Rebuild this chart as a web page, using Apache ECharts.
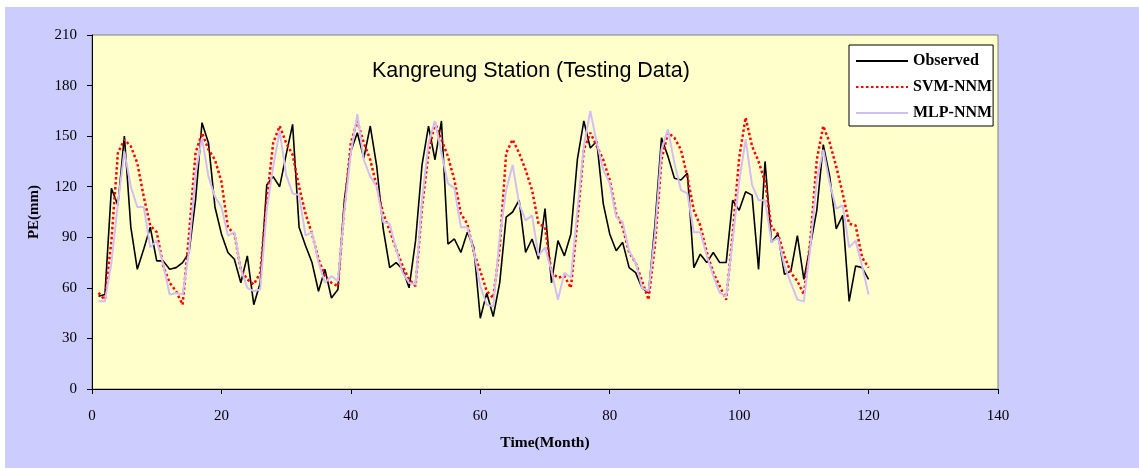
<!DOCTYPE html>
<html>
<head>
<meta charset="utf-8">
<script src="https://cdn.jsdelivr.net/npm/echarts@6/dist/echarts.min.js"></script>
<style>
html,body{margin:0;padding:0;background:#fff;}
#chart{width:1139px;height:468px;}
</style>
</head>
<body>
<div id="chart"></div>
<script>
const seriesNames = ['Observed', 'SVM-NNM', 'MLP-NNM'];
const xTicks = [0, 20, 40, 60, 80, 100, 120, 140];
const yTicks = [0, 30, 60, 90, 120, 150, 180, 210];

const observed = [55,56,119,109,150,96,71,83,96,76,76,71,72,75,81,112,158,146,108,92,
  81,77,63,79,50,63,121,126,120,139,157,96,85,75,58,71,54,59,112,141,
  152,137,156,132,95,72,75,71,60,88,133,156,136,159,86,89,81,93,84,42,
  57,43,63,102,105,112,81,89,77,107,63,88,79,92,136,159,143,147,110,92,
  82,87,72,69,60,57,98,149,138,125,124,128,72,80,75,81,75,75,112,106,
  117,115,71,135,87,92,68,70,91,65,85,106,145,126,95,103,52,73,72,65];

const svm = [57,53,88,140,148,144,134,114,97,93,73,63,58,50,92,140,152,142,136,123,
  96,92,71,65,62,69,112,146,156,146,139,120,104,92,77,67,63,61,108,146,
  159,146,136,120,104,94,83,73,65,61,108,140,158,148,138,124,104,98,81,70,
  58,54,84,140,148,140,130,118,98,96,69,66,67,60,100,142,152,144,136,124,
  104,96,81,75,64,53,86,136,152,149,142,126,106,97,81,69,61,53,92,137,
  161,144,135,123,96,92,79,69,64,56,88,136,156,146,132,116,98,97,78,72];

const mlp = [52,52,75,110,141,120,108,108,84,88,74,56,57,56,82,128,149,126,114,108,
  91,93,71,60,58,59,106,132,153,127,116,115,91,93,75,63,67,64,106,140,
  163,136,126,120,99,98,83,69,63,62,112,146,159,140,122,119,96,96,82,61,
  50,49,90,118,133,110,100,103,79,84,70,53,69,66,106,144,165,146,130,122,
  102,99,82,75,60,58,92,142,154,134,118,116,93,93,79,67,57,55,88,123,
  148,121,112,112,87,90,73,63,53,52,84,124,142,122,107,109,84,88,73,56];

const months = observed.map((_, i) => i + 1);
const toPairs = arr => arr.map((v, i) => [months[i], v]);

const serif = 'Liberation Serif';
const chart = echarts.init(document.getElementById('chart'), null, {renderer: 'canvas'});
chart.setOption({
  backgroundColor: '#ffffff',
  animation: false,
  graphic: [{
    type: 'rect', left: 5, top: 7, z: -10, silent: true,
    shape: {width: 1134, height: 461},
    style: {fill: '#CCCCFF'}
  }],
  title: {
    text: 'Kangreung Station (Testing Data)',
    left: 372, top: 60,
    padding: 0,
    textStyle: {fontFamily: 'Liberation Sans', fontSize: 21.5, fontWeight: 'normal', color: '#000'}
  },
  legend: {
    orient: 'vertical',
    left: 849, top: 45,
    padding: [8, 1, 5, 6],
    itemWidth: 52, itemHeight: 14, itemGap: 10,
    backgroundColor: '#ffffff',
    borderColor: '#000', borderWidth: 1, borderRadius: 0,
    itemStyle: {opacity: 0},
    data: seriesNames,
    textStyle: {fontFamily: serif, fontSize: 16, fontWeight: 'bold', color: '#000', padding: [0,0,0,0]}
  },
  grid: {
    left: 92, top: 35, right: 141, bottom: 79,
    show: true, backgroundColor: '#FFFFCC', borderColor: '#808080', borderWidth: 1,
    containLabel: false
  },
  xAxis: {
    type: 'value', min: xTicks[0], max: xTicks[xTicks.length - 1], interval: 20,
    name: 'Time(Month)', nameLocation: 'middle', nameGap: 46,
    nameTextStyle: {fontFamily: serif, fontSize: 15.5, fontWeight: 'bold', color: '#000'},
    axisLine: {show: true, lineStyle: {color: '#000', width: 1}},
    axisTick: {show: true, inside: false, length: 5, lineStyle: {color: '#000'}},
    axisLabel: {fontFamily: serif, fontSize: 15, color: '#000', margin: 20},
    splitLine: {show: false}
  },
  yAxis: {
    type: 'value', min: yTicks[0], max: yTicks[yTicks.length - 1], interval: 30,
    name: 'PE(mm)', nameLocation: 'middle', nameGap: 50, nameRotate: 90,
    nameTextStyle: {fontFamily: serif, fontSize: 15, fontWeight: 'bold', color: '#000'},
    axisLine: {show: true, lineStyle: {color: '#000', width: 1}},
    axisTick: {show: true, inside: false, length: 5, lineStyle: {color: '#000'}},
    axisLabel: {fontFamily: serif, fontSize: 15, color: '#000', margin: 15},
    splitLine: {show: false}
  },
  series: [
    {name: seriesNames[0], type: 'line', data: toPairs(observed), symbol: 'none',
     lineStyle: {color: '#000000', width: 1.6}, itemStyle: {color: '#000000'}},
    {name: seriesNames[1], type: 'line', data: toPairs(svm), symbol: 'none',
     lineStyle: {color: '#FF0000', width: 2.5, type: [2.5, 2.5]}, itemStyle: {color: '#FF0000'}},
    {name: seriesNames[2], type: 'line', data: toPairs(mlp), symbol: 'none',
     lineStyle: {color: '#D2BDF5', width: 2}, itemStyle: {color: '#D2BDF5'}}
  ]
});
</script>
</body>
</html>
